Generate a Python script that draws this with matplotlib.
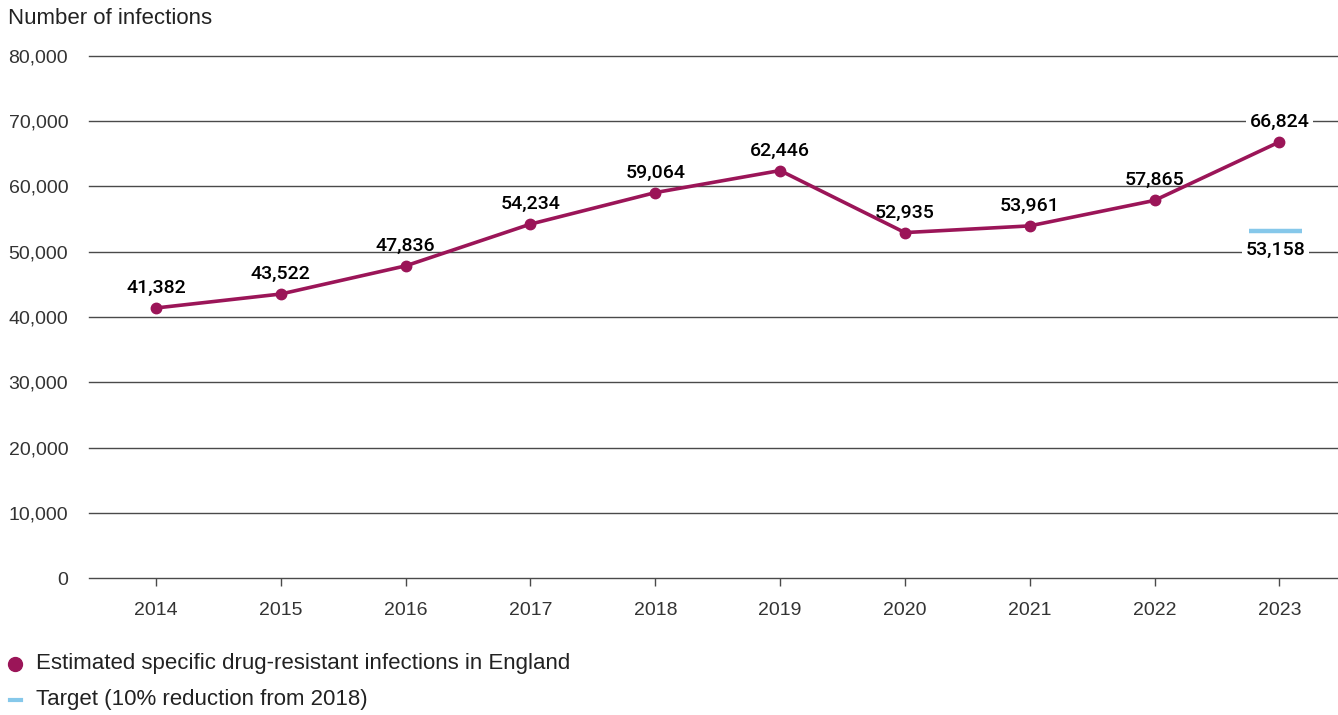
import matplotlib.pyplot as plt
from matplotlib.lines import Line2D

plt.rcParams['font.family'] = ['Liberation Sans', 'DejaVu Sans']

years = [2014, 2015, 2016, 2017, 2018, 2019, 2020, 2021, 2022, 2023]
infections = [41382, 43522, 47836, 54234, 59064, 62446, 52935, 53961, 57865, 66824]
target_year = 2023
target_value = 53158
y_ticks = [0, 10000, 20000, 30000, 40000, 50000, 60000, 70000, 80000]

series_color = '#9B1558'
target_color = '#86C8EA'
grid_color = '#4a4a4a'
text_color = '#222222'

fig = plt.figure(figsize=(13.38, 7.15), dpi=100)
ax = fig.add_axes([0.0665, 0.1916, 0.9335, 0.7301])

ax.set_xlim(years[0] - 0.537, years[-1] + 0.47)
ax.set_ylim(0, 80000)

for t in y_ticks:
    ax.axhline(t, color=grid_color, lw=1.0, zorder=1, clip_on=False)

ax.plot(years, infections, color=series_color, lw=2.6, marker='o', ms=7.5,
        zorder=3, solid_capstyle='round')

ax.hlines(target_value, target_year - 0.24, target_year + 0.18,
          color=target_color, lw=3.2, zorder=3)

label_font = dict(fontsize=14, color='black', family=['Roboto', 'Liberation Sans'],
                  fontweight='medium')
white_box = dict(boxstyle='square,pad=0.2', fc='white', ec='none')

for x, v in zip(years, infections):
    ax.annotate(f'{v:,}', (x, v), xytext=(0, 14.5), textcoords='offset points',
                ha='center', va='center', zorder=4,
                bbox=white_box if x == years[-1] else None, **label_font)

ax.annotate(f'{target_value:,}', (target_year - 0.03, target_value), xytext=(0, -13.5),
            textcoords='offset points', ha='center', va='center', zorder=4,
            bbox=white_box, **label_font)

for s in ax.spines.values():
    s.set_visible(False)

ax.set_yticks(y_ticks)
ax.set_yticklabels([f'{t:,}' for t in y_ticks])
ax.set_xticks(years)
ax.set_xticklabels([str(y) for y in years])
ax.tick_params(axis='y', length=0, pad=15, labelsize=14, labelcolor='#333333')
ax.tick_params(axis='x', length=6, width=1, color=grid_color, pad=11,
               labelsize=14, labelcolor='#333333')

fig.text(8 / 1338, 1 - 18 / 715, 'Number of infections', ha='left', va='center',
         fontsize=16, color=text_color)

# Legend drawn in figure coordinates beneath the plot
legend_items = [
    (Line2D([15 / 1338], [1 - 664 / 715], marker='o', color=series_color,
            ms=10, lw=0, transform=fig.transFigure),
     'Estimated specific drug-resistant infections in England', 664),
    (Line2D([10 / 1338, 21 / 1338], [1 - 700 / 715] * 2, color=target_color,
            lw=3, transform=fig.transFigure),
     'Target (10% reduction from 2018)', 700),
]
for handle, label, ypx in legend_items:
    fig.add_artist(handle)
    fig.text(36 / 1338, 1 - ypx / 715, label, ha='left', va='center',
             fontsize=16, color=text_color)

fig.savefig('out.png', dpi=100)
